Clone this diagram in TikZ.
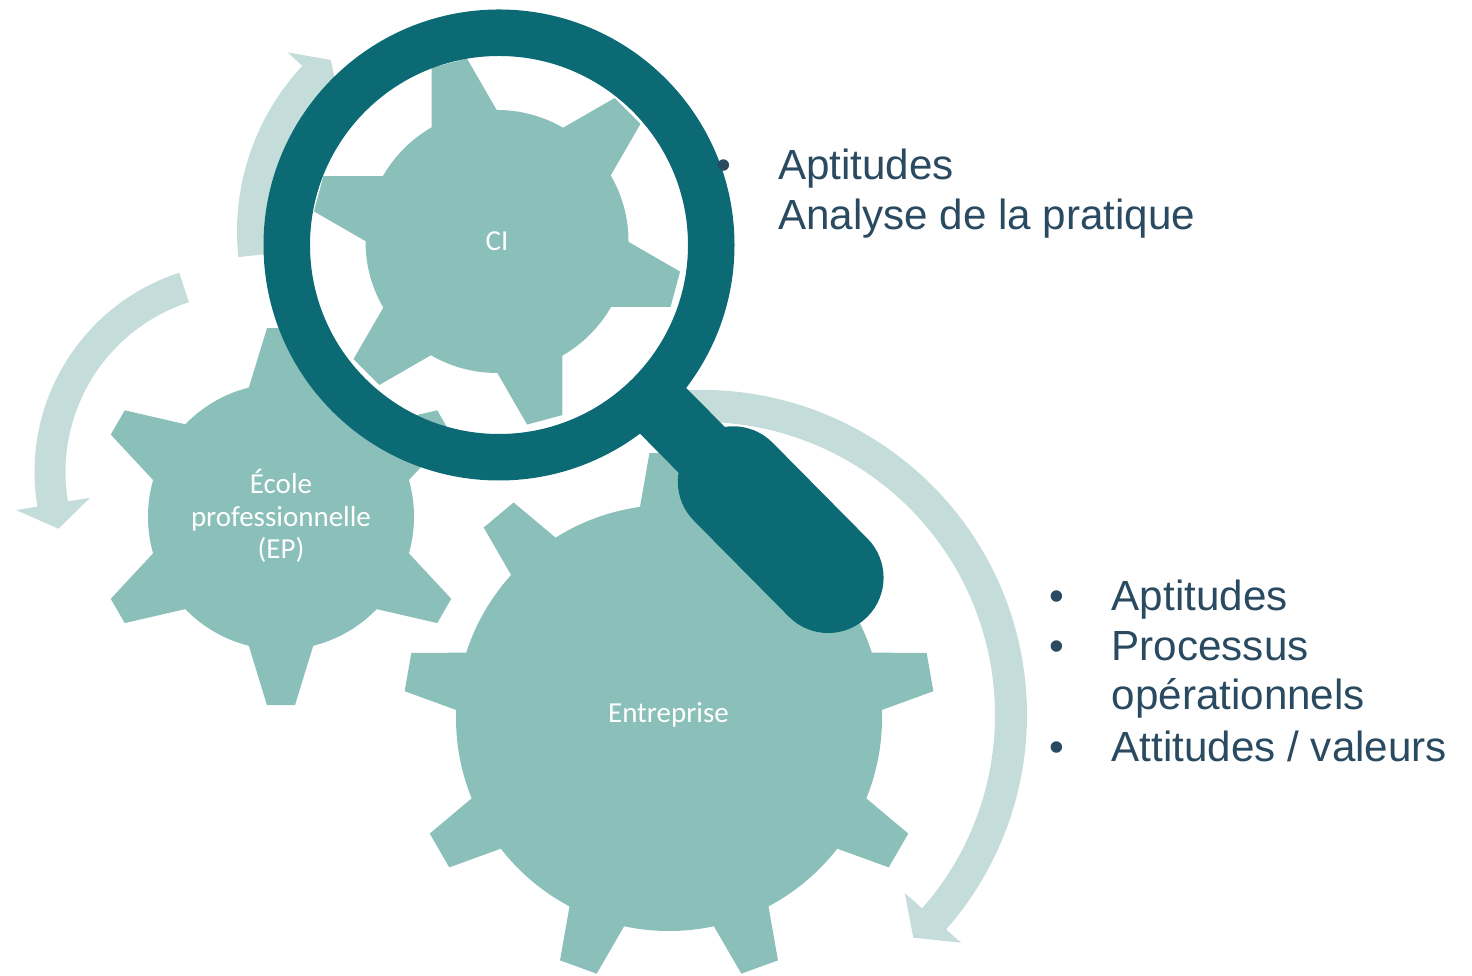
\documentclass[tikz,border=0pt]{standalone}
\usepackage{fontspec}
\setmainfont{Liberation Sans}
\newfontfamily\cogfont{Carlito}
\definecolor{gearteal}{HTML}{8AC0B9}
\definecolor{lensteal}{HTML}{0C6A75}
\definecolor{swirlteal}{HTML}{C4DDDA}
\definecolor{listblue}{HTML}{294A60}
\begin{document}
\begin{tikzpicture}[gear/.style={fill=gearteal},
    cog label/.style={text=white,align=center,font=\cogfont\fontsize{8.25}{9.3}\selectfont},
    list text/.style={text=listblue,anchor=base west,inner sep=0pt,font=\fontsize{12}{14.3}\selectfont},
    list dot/.style={text=listblue,anchor=base,inner sep=0pt,font=\fontsize{12}{14.3}\selectfont}]
    \useasboundingbox (0,0) rectangle (14.72,9.76);
    % swirl arrows
    \begin{scope}[shift={(4.80,7.443)}]% behind the lens
      \fill[swirlteal] (186:2.43) arc[start angle=186,end angle=137,radius=2.43]
        -- (137:2.63) -- (131:2.275) -- (137:1.92) -- (137:2.12)
        arc[start angle=137,end angle=186,radius=2.12] -- cycle;
    \end{scope}
    \begin{scope}[shift={(2.44,5.04)}]% left of EP
      \fill[swirlteal] (108:2.095) arc[start angle=108,end angle=189.5,radius=2.095]
        -- (189.5:2.31) -- (197:1.94) -- (189.5:1.56) -- (189.5:1.785)
        arc[start angle=189.5,end angle=108,radius=1.785] -- cycle;
    \end{scope}
    \begin{scope}[shift={(7.02,2.61)}]% round the Entreprise gear
      \fill[swirlteal] (97:3.25) arc[start angle=97,end angle=-41.3,radius=3.25]
        -- (-41.3:3.45) -- (-46.5:3.07) -- (-41.3:2.70) -- (-41.3:2.93)
        arc[start angle=-41.3,end angle=97,radius=2.93] -- cycle;
    \end{scope}
    % gears
    \begin{scope}[shift={(2.81,4.593)}]% EP gear
      \fill[gear] (0,0) circle (1.33);
      \foreach \a in {30,90,...,330}
        \fill[gear,rotate=\a] (1.2,-0.35) -- (1.885,-0.14) -- (1.885,0.14) -- (1.2,0.35) -- cycle;
    \end{scope}
    \begin{scope}[shift={(4.97,7.345)}]% CI gear
      \fill[gear] (0,0) circle (1.315);
      \foreach \a in {45,105,...,345}
        \fill[gear,rotate=\a] (1.2,-0.356) -- (1.846,-0.183) -- (1.846,0.183) -- (1.2,0.356) -- cycle;
    \end{scope}
    \begin{scope}[shift={(6.69,2.58)}]% Entreprise gear
      \fill[gear] (0,0) circle (2.13);
      \foreach \a in {10,50,...,330}
        \fill[gear,rotate=\a] (2.0,-0.31) -- (2.65,-0.195) -- (2.65,0.195) -- (2.0,0.31) -- cycle;
    \end{scope}
    % magnifier
    \fill[lensteal,even odd rule] (4.99,7.31) circle (2.355) circle (1.89);
    \begin{scope}[shift={(4.99,7.31)},rotate=-45.3]
      \fill[lensteal] (2.1,-0.325) rectangle (3.4,0.325);% neck
      \fill[lensteal] (3.33,0.554) arc[start angle=90,end angle=270,radius=0.554]
        -- (4.68,-0.554) arc[start angle=-90,end angle=90,radius=0.554] -- cycle;% grip
    \end{scope}
    % labels
    \node[cog label] (ci) at (4.97,7.35) {CI};
    \node[cog label] (ep) at (2.81,4.60) {École\\professionnelle\\(EP)};
    \node[cog label] (entreprise) at (6.685,2.61) {Entreprise};
    % lists
    \node[list dot] (dotci) at (7.24,7.96) {•};
    \node[list text] (aptci) at (7.773,7.96) {Aptitudes};
    \node[list text] (analyse) at (7.773,7.46) {Analyse de la pratique};
    \node[list dot] (dotapt) at (10.57,3.65) {•};
    \node[list text] (aptent) at (11.11,3.65) {Aptitudes};
    \node[list dot] (dotproc) at (10.57,3.155) {•};
    \node[list text] (processus) at (11.11,3.155) {Processus};
    \node[list text] (operation) at (11.11,2.665) {opérationnels};
    \node[list dot] (dotatt) at (10.57,2.145) {•};
    \node[list text] (attitudes) at (11.11,2.145) {Attitudes / valeurs};
\end{tikzpicture}
\end{document}
